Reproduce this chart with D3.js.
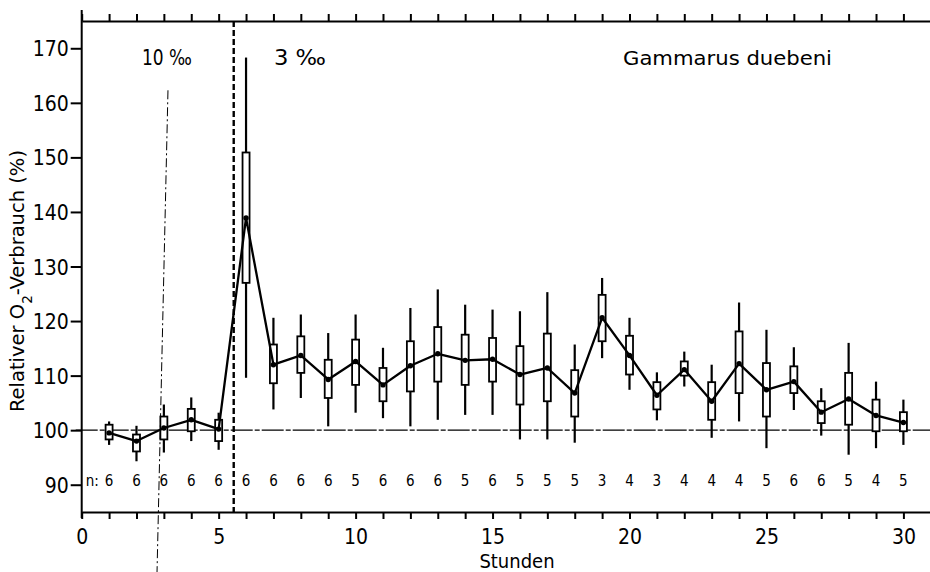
<!DOCTYPE html>
<html>
<head>
<meta charset="utf-8">
<script src="https://cdn.jsdelivr.net/npm/d3@7"></script>
<style>
  html, body { margin: 0; padding: 0; background: #fff; overflow: hidden; }
  svg { display: block; }
  text { font-family: "DejaVu Sans Condensed", "DejaVu Sans", sans-serif; font-stretch: condensed; fill: #000; }
</style>
</head>
<body>
<svg id="chart" width="930" height="572"></svg>
<script>
// Relative oxygen consumption of Gammarus duebeni after transfer from 10 ‰ to 3 ‰ salinity
const hours   = [1, 2, 3, 4, 5, 6, 7, 8, 9, 10, 11, 12, 13, 14, 15, 16, 17, 18, 19, 20, 21, 22, 23, 24, 25, 26, 27, 28, 29, 30];
const means   = [99.5, 98, 100.4, 101.9, 100.2, 138.9, 112, 113.7, 109.3, 112.6, 108.3, 111.8, 114, 112.8, 113, 110.2, 111.4, 106.8, 120.6, 113.7, 106.4, 111.1, 105.3, 112.2, 107.4, 108.9, 103.3, 105.7, 102.7, 101.4];
const boxHi   = [101, 99.2, 102.5, 103.9, 101.9, 150.9, 115.7, 117.2, 112.9, 116.6, 111.4, 116.3, 118.9, 117.5, 116.9, 115.4, 117.7, 111, 124.8, 117.3, 108.8, 112.6, 108.8, 118.1, 112.3, 111.7, 105.3, 110.5, 105.6, 103.3];
const boxLo   = [98.3, 96.1, 98.3, 99.8, 98, 127, 108.6, 110.5, 105.9, 108.3, 105.3, 107.1, 108.9, 108.3, 108.9, 104.7, 105.3, 102.5, 116.3, 110.2, 103.8, 110, 101.9, 106.8, 102.5, 106.8, 101.3, 101, 99.8, 99.8];
const whiskHi = [101.6, 100.8, 104.7, 106, 103.2, 168.3, 120.6, 121.2, 117.8, 121.2, 115.1, 122.4, 125.8, 123, 122.1, 121.8, 125.3, 115.7, 127.9, 120.6, 110.6, 114.4, 112, 123.4, 118.4, 115.2, 107.7, 116, 108.9, 105.6];
const whiskLo = [97.3, 94.3, 95.9, 98, 96.4, 109.6, 103.8, 105.9, 100.7, 103.2, 102.2, 100.7, 101.9, 102.8, 102.8, 98.3, 98.3, 97.7, 113.2, 107.4, 101.8, 108, 98.6, 101.6, 96.7, 103.7, 99, 95.5, 96.7, 97.3];
const nCounts = [6, 6, 6, 6, 6, 6, 6, 6, 6, 5, 6, 6, 6, 5, 6, 5, 5, 5, 3, 4, 3, 4, 4, 4, 5, 6, 6, 5, 4, 5];

const yTicks = [90, 100, 110, 120, 130, 140, 150, 160, 170];
const xTickLabels = [0, 5, 10, 15, 20, 25, 30];
const xTicks = d3.range(0, 31);
const transferHour = 5.55;
const salinityLabels = ["10 ‰", "3 ‰"];
const speciesLabel = "Gammarus duebeni";

const svg = d3.select("#chart");
const x = d3.scaleLinear().domain([0, 31]).range([81.7, 930.8]);
const y = d3.scaleLinear().domain([85, 175]).range([512, 21]);

const rows = hours.map((h, i) => ({
  h, m: means[i], bHi: boxHi[i], bLo: boxLo[i], wHi: whiskHi[i], wLo: whiskLo[i], n: nCounts[i]
}));

// reference level 100 %
svg.append("line")
  .attr("x1", x(0) - 6).attr("x2", x(31))
  .attr("y1", y(100)).attr("y2", y(100))
  .attr("stroke", "#000").attr("stroke-width", 1.4)
  .attr("stroke-dasharray", "22,2,5,2");

// thin dash-dot marker within the 10 ‰ phase
svg.append("line")
  .attr("x1", x(3.15)).attr("y1", y(162.3))
  .attr("x2", x(2.75)).attr("y2", y(74))
  .attr("stroke", "#000").attr("stroke-width", 1)
  .attr("stroke-dasharray", "9,3,2,3");

// transfer to 3 ‰
svg.append("line")
  .attr("x1", x(transferHour)).attr("x2", x(transferHour))
  .attr("y1", y(175)).attr("y2", y(85))
  .attr("stroke", "#000").attr("stroke-width", 2.4)
  .attr("stroke-dasharray", "6,3");

// axes
const axisBottomG = svg.append("g").attr("transform", `translate(0,${y(85)})`)
  .call(d3.axisBottom(x).tickValues(xTicks).tickSize(7).tickSizeOuter(0)
    .tickFormat(d => xTickLabels.includes(d) ? d : ""));
const axisTopG = svg.append("g").attr("transform", `translate(0,${y(175)})`)
  .call(d3.axisTop(x).tickValues(xTicks).tickSize(7).tickSizeOuter(0).tickFormat(""));
const axisLeftG = svg.append("g").attr("transform", `translate(${x(0)},0)`)
  .call(d3.axisLeft(y).tickValues(yTicks).tickSize(11).tickSizeOuter(0).tickPadding(2))
  .call(g => g.select(".domain").remove());

[axisBottomG, axisTopG, axisLeftG].forEach(g => {
  g.selectAll("path, line").attr("stroke", "#000").attr("stroke-width", 2);
  g.selectAll("text").attr("fill", "#000").attr("font-size", 21)
    .attr("font-family", '"DejaVu Sans Condensed", "DejaVu Sans", sans-serif');
});
axisBottomG.selectAll("text").attr("dy", "1.05em");
axisLeftG.selectAll("text").attr("dy", "0.36em");

// left axis line, running slightly past the frame
svg.append("line")
  .attr("x1", x(0)).attr("x2", x(0))
  .attr("y1", 10).attr("y2", 518)
  .attr("stroke", "#000").attr("stroke-width", 2);

// whiskers
const marks = svg.append("g");
marks.selectAll("line.wu").data(rows).join("line").attr("class", "wu")
  .attr("x1", d => x(d.h)).attr("x2", d => x(d.h))
  .attr("y1", d => y(d.wHi)).attr("y2", d => y(d.bHi))
  .attr("stroke", "#000").attr("stroke-width", 2.2);
marks.selectAll("line.wl").data(rows).join("line").attr("class", "wl")
  .attr("x1", d => x(d.h)).attr("x2", d => x(d.h))
  .attr("y1", d => y(d.bLo)).attr("y2", d => y(d.wLo))
  .attr("stroke", "#000").attr("stroke-width", 2.2);

// boxes
const boxW = 7;
marks.selectAll("rect").data(rows).join("rect")
  .attr("x", d => x(d.h) - boxW / 2)
  .attr("width", boxW)
  .attr("y", d => y(d.bHi))
  .attr("height", d => y(d.bLo) - y(d.bHi))
  .attr("fill", "#fff").attr("stroke", "#000").attr("stroke-width", 1.8);

// mean course
svg.append("path").datum(rows)
  .attr("d", d3.line().x(d => x(d.h)).y(d => y(d.m)))
  .attr("fill", "none").attr("stroke", "#000").attr("stroke-width", 2.3)
  .attr("stroke-linejoin", "round");
svg.selectAll("circle").data(rows).join("circle")
  .attr("cx", d => x(d.h)).attr("cy", d => y(d.m)).attr("r", 2.7)
  .attr("fill", "#000");

// sample sizes
svg.append("text").attr("x", x(0) + 4).attr("y", 486)
  .attr("font-size", 15).text("n:");
svg.selectAll("text.n").data(rows).join("text").attr("class", "n")
  .attr("x", d => x(d.h)).attr("y", 486)
  .attr("text-anchor", "middle").attr("font-size", 15)
  .text(d => d.n);

// salinity phases and species
svg.append("text").attr("x", 142).attr("y", 65)
  .attr("font-size", 21).attr("textLength", 50).attr("lengthAdjust", "spacingAndGlyphs")
  .text(salinityLabels[0]);
svg.append("text").attr("x", 274).attr("y", 65)
  .attr("font-size", 21).attr("textLength", 52).attr("lengthAdjust", "spacingAndGlyphs")
  .text(salinityLabels[1]);
svg.append("text").attr("x", 623).attr("y", 65)
  .attr("font-size", 20).attr("textLength", 209).attr("lengthAdjust", "spacingAndGlyphs")
  .text(speciesLabel);

// axis titles
const yTitle = svg.append("text")
  .attr("transform", "translate(24,281) rotate(-90)")
  .attr("text-anchor", "middle").attr("font-size", 20)
  .attr("textLength", 262).attr("lengthAdjust", "spacingAndGlyphs");
yTitle.append("tspan").text("Relativer O");
yTitle.append("tspan").attr("baseline-shift", "sub").attr("font-size", 14).text("2");
yTitle.append("tspan").text("-Verbrauch  (%)");

svg.append("text").attr("x", 517).attr("y", 568)
  .attr("text-anchor", "middle").attr("font-size", 20).text("Stunden");
</script>
</body>
</html>
